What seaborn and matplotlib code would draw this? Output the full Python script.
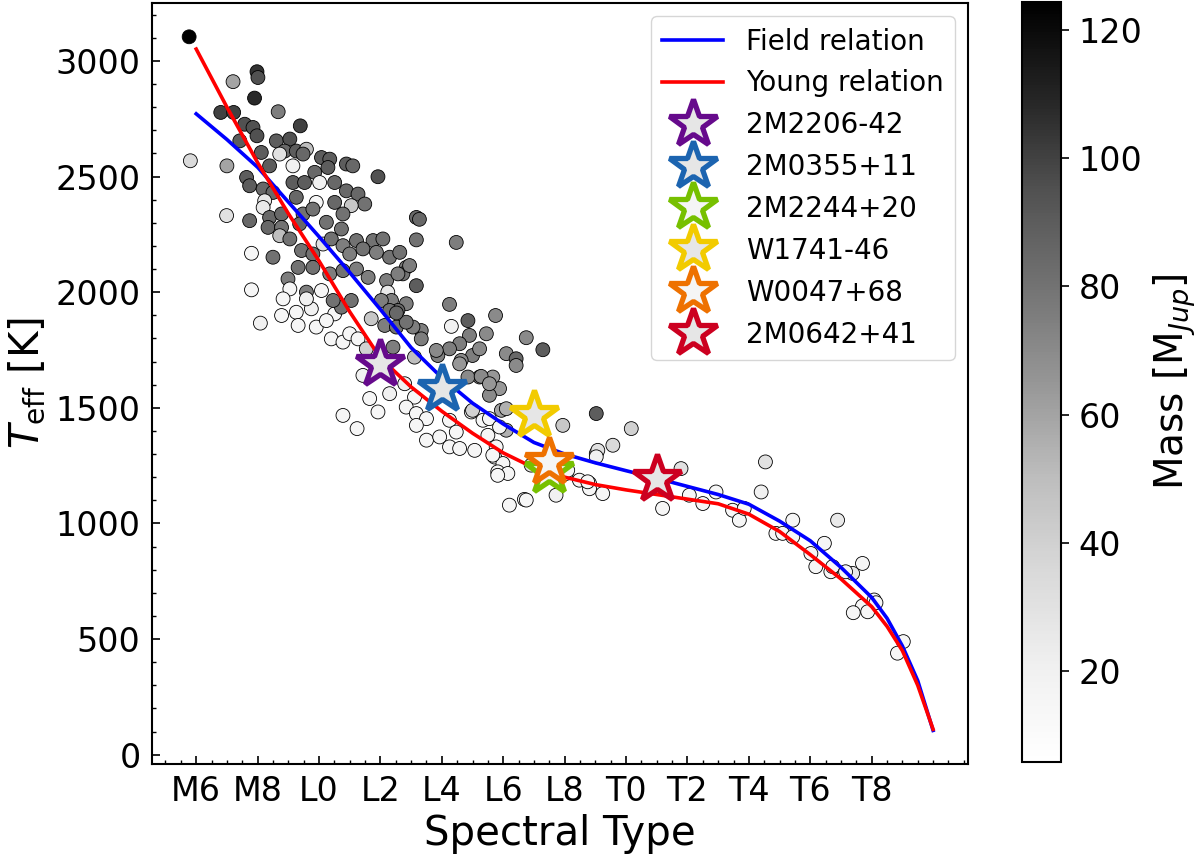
import numpy as np
import matplotlib
matplotlib.use("Agg")
import matplotlib.pyplot as plt
import seaborn as sns
from matplotlib.colors import Normalize
from matplotlib.ticker import MultipleLocator

# scatter sample: spectral type (M6=6, L0=10, T0=20), Teff [K], mass [Mjup]
spt = [5.77, 7.98, 8.01, 7.2, 7.9, 6.8, 7.22, 8.67, 9.39, 7.58, 7.85, 7.98, 7.42, 8.61, 9.05,
       5.81, 7.0, 8.12, 8.88, 9.26, 9.59, 8.72, 9.48, 9.15, 10.08, 10.35, 10.89, 11.1, 11.92,
       7.64, 8.39, 9.86, 10.29, 10.02, 10.51, 7.74, 8.18, 8.5, 9.15, 9.53, 10.89, 11.27, 11.49,
       8.23, 8.18, 9.26, 9.91, 10.51, 11.05, 6.99, 7.74, 8.39, 8.78, 9.48, 9.8, 10.78, 8.34,
       8.78, 9.37, 10.24, 10.73, 11.22, 11.76, 12.08, 13.17, 13.17, 8.72, 9.05, 8.5, 7.8, 9.43,
       9.8, 10.13, 10.4, 10.78, 11.0, 11.43, 11.87, 12.3, 12.63, 12.84, 13.17, 9.32, 9.8, 10.35,
       10.78, 11.22, 11.6, 12.2, 12.73, 7.8, 8.99, 9.05, 9.59, 10.08,
       13.27, 14.47, 12.95, 12.57, 12.24, 12.36, 12.84, 12.57, 14.25, 14.85, 14.31, 15.75, 16.75,
       17.29, 16.1, 16.42, 16.42, 15.45, 14.9, 14.58, 14.25, 15.0, 14.63, 13.87, 13.33, 13.06,
       13.33, 13.11, 15.23, 15.66, 15.88, 15.55, 14.85, 12.79, 12.14, 12.41,
       8.09, 8.78, 9.26, 9.75, 8.83, 9.59, 9.32, 9.91, 10.4, 10.78, 10.51, 10.24, 11.0, 11.27,
       10.73, 10.46, 11.05, 11.7, 11.54, 11.43, 10.78, 11.24, 11.65, 11.92, 12.3, 13.11, 12.84,
       13.17, 13.5, 13.17, 13.5, 14.25, 14.47, 13.93, 14.25, 14.58, 14.96, 15.07, 15.34, 15.5,
       15.77, 15.72, 15.99, 15.82, 16.15, 16.2, 16.69, 17.72, 16.1, 15.94, 15.28, 15.55, 15.23,
       13.82, 14.58, 17.94, 19.03, 19.03, 18.81, 18.48, 18.81, 12.03, 12.3, 12.52, 12.84, 12.52,
       20.17, 19.57, 19.08, 19.03, 18.75, 19.24, 16.75, 18.05, 21.79, 21.19, 22.06, 22.5, 22.93,
       23.47, 23.69, 23.85, 24.54, 24.4, 24.88, 25.1, 25.43, 25.43, 26.46, 26.02, 26.18, 26.67,
       26.89, 27.38, 27.7, 28.08, 26.73, 27.15, 28.14, 27.7, 27.87, 27.4, 29.03, 28.84,
       15.0, 15.55, 15.88, 15.66, 15.82, 16.91, 18.1, 16.1]
teff = [3104, 2953, 2928, 2910, 2839, 2777, 2777, 2780, 2719, 2726, 2712, 2676, 2654, 2654, 2662,
        2568, 2546, 2604, 2610, 2610, 2618, 2597, 2597, 2546, 2582, 2575, 2554, 2546, 2499,
        2496, 2546, 2518, 2539, 2474, 2474, 2460, 2446, 2431, 2474, 2474, 2438, 2424, 2381,
        2395, 2366, 2410, 2388, 2388, 2374, 2331, 2309, 2323, 2338, 2338, 2359, 2338, 2280,
        2280, 2295, 2302, 2273, 2223, 2223, 2230, 2323, 2226, 2244, 2230, 2151, 2168, 2180,
        2165, 2208, 2230, 2201, 2165, 2187, 2172, 2151, 2172, 2107, 2028, 2107, 2107, 2079,
        2093, 2100, 2064, 2050, 2079, 2010, 2057, 2014, 2000, 2007,
        2315, 2215, 2115, 2079, 2000, 1964, 1950, 1921, 1947, 1877, 1852, 1899, 1803,
        1751, 1734, 1712, 1683, 1820, 1813, 1777, 1755, 1726, 1705, 1726, 1834, 1849,
        1798, 1719, 1633, 1633, 1583, 1554, 1633, 1604, 1856, 1762,
        1866, 1899, 1913, 1928, 1971, 1971, 1856, 1849, 1798, 1784, 1906, 1877, 1820, 1798,
        1935, 1964, 1964, 1885, 1755, 1640, 1467, 1410, 1540, 1482, 1561, 1546, 1503,
        1475, 1453, 1424, 1360, 1446, 1395, 1374, 1331, 1324, 1482, 1316, 1446, 1381,
        1331, 1287, 1259, 1223, 1216, 1079, 1104, 1122, 1403, 1489, 1636, 1604, 1755,
        1748, 1690, 1424, 1475, 1302, 1173, 1187, 1150, 1964, 1921, 1849, 1870, 1910,
        1410, 1338, 1316, 1288, 1180, 1129, 1101, 1216, 1237, 1065, 1122, 1086, 1136,
        1057, 1014, 1065, 1266, 1136, 957, 957, 1014, 942, 914, 870, 813, 791,
        1014, 784, 827, 669, 813, 791, 657, 643, 618, 614, 489, 439,
        1489, 1453, 1417, 1295, 1208, 1252, 1230, 1496]
mass = [124, 105, 95, 60, 108, 100, 100, 75, 100, 95, 95, 95, 90, 90, 95,
        35, 60, 90, 85, 90, 50, 30, 85, 20, 90, 90, 90, 85, 95,
        90, 90, 85, 90, 20, 85, 90, 85, 85, 90, 90, 85, 85, 80,
        25, 25, 85, 15, 85, 45, 30, 85, 85, 85, 80, 80, 80, 85,
        80, 85, 80, 80, 80, 80, 80, 85, 80, 50, 80, 80, 15, 80,
        80, 30, 80, 75, 75, 80, 75, 80, 80, 75, 90, 80, 80, 75,
        80, 75, 75, 75, 80, 15, 75, 15, 75, 15,
        85, 75, 75, 75, 25, 75, 75, 85, 75, 90, 20, 70, 70,
        90, 70, 85, 70, 70, 75, 75, 75, 75, 70, 75, 75, 75,
        75, 50, 70, 65, 65, 70, 70, 20, 75, 75,
        20, 15, 15, 20, 15, 20, 15, 15, 15, 15, 15, 15, 15, 15,
        80, 80, 80, 45, 40, 20, 15, 15, 15, 15, 20, 15, 15,
        15, 15, 15, 15, 15, 15, 15, 15, 15, 20, 15, 15, 15,
        15, 15, 15, 15, 15, 15, 15, 20, 55, 60, 70, 65, 70,
        70, 65, 45, 90, 40, 15, 15, 15, 75, 80, 80, 80, 85,
        40, 35, 30, 20, 15, 15, 15, 15, 30, 15, 15, 15, 15,
        15, 15, 15, 30, 20, 15, 15, 15, 15, 15, 15, 15, 15,
        25, 25, 15, 15, 15, 15, 15, 15, 15, 15, 15, 15,
        40, 15, 15, 15, 15, 30, 15, 55]

# relations
rel_spt = [6, 7, 8, 9, 10, 11, 12, 13, 14, 15, 16, 17, 18, 19, 20, 21, 22, 23, 24, 25, 26,
           27, 28, 28.5, 29, 29.5, 30]
field_teff = [2771, 2660, 2540, 2390, 2240, 2085, 1925, 1760, 1630, 1520, 1430, 1350, 1300,
              1262, 1228, 1195, 1160, 1125, 1083, 1010, 925, 810, 680, 590, 470, 320, 105]
young_teff = [3051, 2800, 2560, 2340, 2135, 1915, 1715, 1590, 1485, 1390, 1305, 1240, 1200,
              1168, 1145, 1125, 1105, 1085, 1040, 965, 865, 760, 640, 555, 450, 300, 110]

# highlighted objects
obj_names = ["2M2206-42", "2M0355+11", "2M2244+20", "W1741-46", "W0047+68", "2M0642+41"]
obj_spt = [12.0, 14.0, 17.5, 17.0, 17.5, 21.0]
obj_teff = [1690, 1583, 1228, 1470, 1266, 1194]
obj_edge = ["#660a8c", "#1c64b0", "#77c000", "#f2cb00", "#ee7100", "#cc0020"]
obj_face = ["#e6e6e6", "#e6e6e6", "#f5f5f5", "#e6e6e6", "#f5f5f5", "#e6e6e6"]

tick_pos = [6, 8, 10, 12, 14, 16, 18, 20, 22, 24, 26, 28]
tick_lab = ["M6", "M8", "L0", "L2", "L4", "L6", "L8", "T0", "T2", "T4", "T6", "T8"]

mmin, mmax = 5.8, 124.4

fig = plt.figure(figsize=(12, 8.58), dpi=100)
ax = fig.add_axes([0.1264, 0.1096, 0.6806, 0.8874])
cax = fig.add_axes([0.8514, 0.1119, 0.0325, 0.8858])

df = {"spt": spt, "teff": teff, "mass": mass}
sns.scatterplot(data=df, x="spt", y="teff", hue="mass", palette="Greys",
                hue_norm=(mmin, mmax), s=100, edgecolor="black", linewidth=0.6,
                legend=False, ax=ax, zorder=2)

ax.plot(rel_spt, field_teff, color="blue", lw=2.6, label="Field relation", zorder=3)
ax.plot(rel_spt, young_teff, color="red", lw=2.6, label="Young relation", zorder=3)

for i in range(len(obj_names)):
    ax.plot(obj_spt[i], obj_teff[i], ls="none", marker="*", ms=36, mew=3.8,
            mec=obj_edge[i], mfc=obj_face[i], label=obj_names[i], zorder=5)

ax.set_xlim(4.55, 31.15)
ax.set_ylim(-40, 3252)
ax.set_xticks(tick_pos)
ax.set_xticklabels(tick_lab)
ax.xaxis.set_minor_locator(MultipleLocator(0.5))
ax.yaxis.set_major_locator(MultipleLocator(500))
ax.yaxis.set_minor_locator(MultipleLocator(100))
ax.tick_params(which="both", direction="in", labelsize=24, pad=8)
ax.tick_params(which="major", length=6, width=1.2)
ax.tick_params(which="minor", length=3, width=1.0)
for sp in ax.spines.values():
    sp.set_linewidth(1.5)

ax.set_xlabel("Spectral Type", fontsize=29, labelpad=4)
ax.set_ylabel(r"$T_{\rm eff}$ [K]", fontsize=29, labelpad=6)

ax.legend(loc="upper right", fontsize=20, handlelength=2.2, labelspacing=0.5,
          borderaxespad=0.5)

sm = plt.cm.ScalarMappable(norm=Normalize(mmin, mmax), cmap="Greys")
cb = fig.colorbar(sm, cax=cax)
cb.set_ticks([20, 40, 60, 80, 100, 120])
cb.ax.tick_params(labelsize=24, length=6, width=1.2, pad=7)
cb.outline.set_linewidth(1.5)
cb.set_label(r"Mass [M$_{Jup}$]", fontsize=28, labelpad=6)

fig.savefig("out.png", dpi=100)
